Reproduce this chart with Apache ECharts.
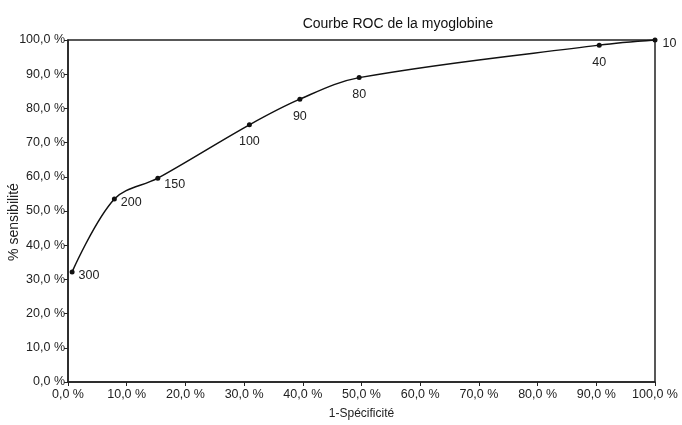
<!DOCTYPE html>
<html><head><meta charset="utf-8">
<script src="https://cdn.jsdelivr.net/npm/echarts@6/dist/echarts.min.js"></script>
<style>html,body{margin:0;padding:0;background:#fff}#c{width:682px;height:425px}</style>
</head><body><div id="c"></div>
<script>
var fpr = [0.7, 7.9, 15.3, 30.9, 39.5, 49.6, 90.5, 100];
var sens = [32.2, 53.5, 59.6, 75.2, 82.7, 89.0, 98.5, 100];
var thresholds = ['300', '200', '150', '100', '90', '80', '40', '10'];

var sideLabel = {position: 'right', offset: [-1, 4]};
var sideLabelLow = {position: 'right', offset: [-1, 6]};
var belowLabel = {position: 'bottom', offset: [0, 3]};
var endLabel = {position: 'right', offset: [0, 4]};
var placements = [sideLabel, sideLabel, sideLabelLow, belowLabel, belowLabel, belowLabel, belowLabel, endLabel];

var data = fpr.map(function (x, i) {
  return {value: [x, sens[i]], label: Object.assign({show: true, formatter: thresholds[i]}, placements[i])};
});
function pct(v) { return v.toFixed(1).replace('.', ',') + ' %'; }
var FONT = 'Liberation Sans, Arial, sans-serif';
var chart = echarts.init(document.getElementById('c'));
chart.setOption({
  animation: false,
  textStyle: {fontFamily: FONT},
  title: {text: 'Courbe ROC de la myoglobine', left: 393, top: 12, textAlign: 'center',
    textStyle: {fontFamily: FONT, fontSize: 14, fontWeight: 'normal', color: '#111'}},
  grid: {left: 68, right: 27, top: 40, bottom: 43, containLabel: false, outerBoundsMode: 'none',
    show: true, borderColor: '#222', borderWidth: 1.5},
  xAxis: {type: 'value', min: 0, max: 100, interval: 10,
    name: '1-Spécificité', nameLocation: 'middle', nameGap: 26, nameMoveOverlap: false,
    nameTextStyle: {fontFamily: FONT, fontSize: 12, color: '#222'},
    axisLine: {show: true, lineStyle: {color: '#222', width: 1.5}},
    axisTick: {show: true, length: 4, lineStyle: {color: '#222'}},
    axisLabel: {formatter: pct, fontFamily: FONT, fontSize: 12.5, color: '#222', margin: 6},
    splitLine: {show: false}},
  yAxis: {type: 'value', min: 0, max: 100, interval: 10,
    name: '% sensibilité', nameLocation: 'middle', nameGap: 47, nameRotate: 90, nameMoveOverlap: false,
    nameTextStyle: {fontFamily: FONT, fontSize: 14, color: '#222', padding: [0, 22, 0, 0]},
    axisLine: {show: true, lineStyle: {color: '#222', width: 1.5}},
    axisTick: {show: true, length: 4, lineStyle: {color: '#222'}},
    axisLabel: {formatter: pct, fontFamily: FONT, fontSize: 12.5, color: '#222', margin: 3},
    splitLine: {show: false}},
  series: [{
    type: 'line', data: data, smooth: 0.35,
    symbol: 'circle', symbolSize: 5,
    itemStyle: {color: '#111'},
    lineStyle: {color: '#111', width: 1.5},
    label: {fontFamily: FONT, fontSize: 12.5, color: '#222'}
  }]
});
</script></body></html>
